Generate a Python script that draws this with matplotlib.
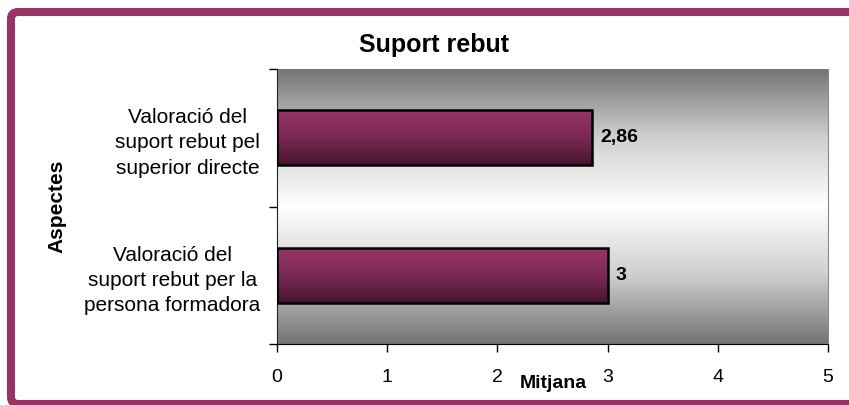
import numpy as np
import matplotlib
matplotlib.use("Agg")
import matplotlib.pyplot as plt
from matplotlib.colors import LinearSegmentedColormap
from matplotlib.patches import FancyBboxPatch
from matplotlib.transforms import IdentityTransform

plt.rcParams['font.family'] = ['Liberation Sans', 'DejaVu Sans']

title = "Suport rebut"
categories = ["Valoració del\nsuport rebut per la\npersona formadora",
              "Valoració del\nsuport rebut pel\nsuperior directe"]
values = [3.0, 2.86]
value_labels = ["3", "2,86"]
xticks = [0, 1, 2, 3, 4, 5]
xlabel = "Mitjana"
ylabel = "Aspectes"

frame_color = "#993366"
W, H = 849, 405

fig = plt.figure(figsize=(W/100, H/100), dpi=100)
fig.patch.set_facecolor("white")

L, R, T, B = 277, 828, 69, 344
ax = fig.add_axes([L/W, (H-B)/H, (R-L)/W, (B-T)/H])

# background gradient (dark - white - dark)
bg_cmap = LinearSegmentedColormap.from_list("bg", ["#747474", "#cfcfcf", "#ffffff", "#cfcfcf", "#747474"])
grad = np.linspace(0, 1, 256).reshape(-1, 1)
ax.imshow(grad, cmap=bg_cmap, aspect="auto", extent=[0, 5, -0.5, 1.5],
          origin="lower", zorder=0)

# bars with gradient
bar_cmap = LinearSegmentedColormap.from_list("bar", ["#45142d", "#7a2a55", "#993366"])
ypos = np.arange(len(categories))
h = 0.40
bars = ax.barh(ypos, values, height=h, color="none", edgecolor="black", linewidth=1.8, zorder=3)
for b in bars:
    x0, y0 = b.get_x(), b.get_y()
    w, hh = b.get_width(), b.get_height()
    im = ax.imshow(grad, cmap=bar_cmap, aspect="auto",
                   extent=[x0, x0 + w, y0, y0 + hh], origin="lower", zorder=2)
    im.set_clip_path(b)

for yv, v, lab in zip(ypos, values, value_labels):
    ax.text(v + 0.07, yv, lab, va="center", ha="left", fontsize=14, fontweight="bold")

ax.set_xlim(0, 5)
ax.set_ylim(-0.5, 1.5)
ax.set_xticks(xticks)
ax.set_xticklabels([str(t) for t in xticks], fontsize=14)
ax.set_yticks(ypos)
ax.set_yticklabels(categories, fontsize=15, linespacing=1.42, ha="right", multialignment="center")
ax.tick_params(axis="y", which="major", length=0, pad=12)
ax.set_yticks([-0.5, 0.5, 1.5], minor=True)
ax.tick_params(axis="y", which="minor", length=6, width=1)
ax.tick_params(axis="x", which="major", length=6, width=1, pad=12)

ax.spines["top"].set_visible(False)
ax.spines["right"].set_color("#8a8a8a")
ax.spines["left"].set_color("#222222")
ax.spines["bottom"].set_color("black")

ax.set_xlabel(xlabel, fontsize=14, fontweight="bold")
ax.xaxis.set_label_coords((553-L)/(R-L), -(384-B)/(B-T))
ax.xaxis.label.set_va("center")
ax.set_ylabel(ylabel, fontsize=15, fontweight="bold")
ax.yaxis.set_label_coords(-(L-57)/(R-L), 0.5)
ax.yaxis.label.set_va("center")

fig.text(434/W, (H-45)/H, title, fontsize=18, fontweight="bold", ha="center", va="center")

# frame (rounded, extends past right edge)
fl, ft, fb = 11, 12, 404
frame = FancyBboxPatch((fl, H-fb), 900-fl, fb-ft,
                       boxstyle="round,pad=0,rounding_size=7",
                       facecolor="none", edgecolor=frame_color, linewidth=5.8,
                       transform=IdentityTransform(), zorder=10)
fig.add_artist(frame)

fig.savefig("out.png", dpi=100)
